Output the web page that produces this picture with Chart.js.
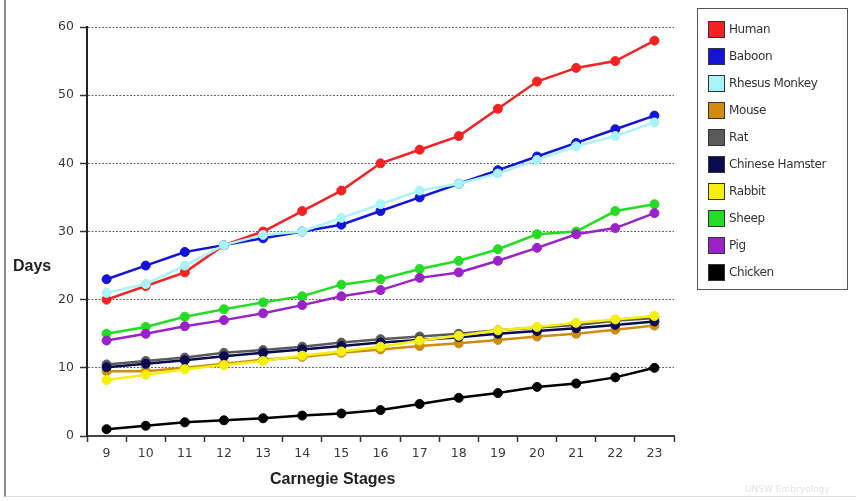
<!DOCTYPE html>
<html>
<head>
<meta charset="utf-8">
<script src="https://cdn.jsdelivr.net/npm/chart.js@4.4.1/dist/chart.umd.min.js"></script>
<style>
  html, body { margin: 0; padding: 0; background: #fff; }
  #wrap { position: relative; width: 856px; height: 501px; overflow: hidden; }
  #frame { position: absolute; left: 4px; top: 0; width: 860px; height: 496px;
           border-left: 2px solid #8a8a8a; border-bottom: 1px solid #ddd; }
  canvas { position: absolute; left: 0; top: 0; }
  #days { position: absolute; left: 13px; top: 257px; font: bold 16px "Liberation Sans", Arial, sans-serif; color: #222; }
  #xtitle { position: absolute; left: 270px; top: 470px; font: bold 16px "Liberation Sans", Arial, sans-serif; color: #222; }
  #legend { position: absolute; left: 697px; top: 8px; width: 151px; height: 282px;
            border: 1px solid #555; box-sizing: border-box; padding-top: 12px; }
  .item { height: 27px; display: flex; align-items: flex-start; font: 12px "DejaVu Sans", sans-serif; color: #333; }
  .sw { width: 15px; height: 15px; border: 1px solid #333; margin: 0 4px 0 10px; }
  .item span { line-height: 17px; letter-spacing: -0.4px; }
  #mark { position: absolute; left: 745px; top: 484px; font: 9px "DejaVu Sans", sans-serif; color: #e2e2e2; }
</style>
</head>
<body>
<div id="wrap">
  <div id="frame"></div>
  <canvas id="myChart" width="856" height="501"></canvas>
  <div id="days">Days</div>
  <div id="xtitle">Carnegie Stages</div>
  <div id="legend"></div>
  <div id="mark">UNSW Embryology</div>
</div>
<script>
// Carnegie stages on the x axis
const stages = ['9', '10', '11', '12', '13', '14', '15', '16', '17', '18', '19', '20', '21', '22', '23'];

// days per stage for each species
const human   = [20, 22, 24, 28, 30, 33, 36, 40, 42, 44, 48, 52, 54, 55, 58];
const baboon  = [23, 25, 27, 28, 29, 30, 31, 33, 35, 37, 39, 41, 43, 45, 47];
const rhesus  = [21, 22.3, 25, 28, 29.5, 30, 32, 34, 36, 37, 38.5, 40.5, 42.5, 44, 46];
const mouse   = [9.5, 9.5, 10, 10.6, 11.2, 11.6, 12.2, 12.7, 13.2, 13.6, 14.1, 14.6, 15, 15.6, 16.2];
const rat     = [10.5, 11, 11.5, 12.2, 12.6, 13.1, 13.7, 14.2, 14.6, 15, 15.5, 15.9, 16.3, 16.9, 17.3];
const hamster = [10.1, 10.6, 11.1, 11.7, 12.2, 12.7, 13.2, 13.7, 14.1, 14.5, 15, 15.4, 15.8, 16.3, 16.8];
const rabbit  = [8.2, 9, 9.8, 10.4, 11, 11.8, 12.4, 13.1, 14, 14.7, 15.5, 16, 16.6, 17.1, 17.6];
const sheep   = [15, 16, 17.5, 18.6, 19.6, 20.5, 22.2, 23, 24.5, 25.7, 27.4, 29.6, 30, 33, 34];
const pig     = [14, 15, 16.1, 17, 18, 19.2, 20.5, 21.4, 23.2, 24, 25.7, 27.6, 29.6, 30.5, 32.7];
const chicken = [1, 1.5, 2, 2.3, 2.6, 3, 3.3, 3.8, 4.7, 5.6, 6.3, 7.2, 7.7, 8.6, 10];

const names  = ['Human', 'Baboon', 'Rhesus Monkey', 'Mouse', 'Rat', 'Chinese Hamster', 'Rabbit', 'Sheep', 'Pig', 'Chicken'];
const series = [human, baboon, rhesus, mouse, rat, hamster, rabbit, sheep, pig, chicken];
const colors = ['#f42222', '#1414d8', '#a8f4f8', '#d08c10', '#5a5a5a', '#0a0a50', '#f4f00a', '#24dc24', '#9a22c8', '#000000'];

const yTicks = [0, 10, 20, 30, 40, 50, 60];

// legend (html)
const legend = document.getElementById('legend');
names.forEach((n, i) => {
  const row = document.createElement('div');
  row.className = 'item';
  row.innerHTML = '<div class="sw" style="background:' + colors[i] + '"></div><span>' + n + '</span>';
  legend.appendChild(row);
});

const tickFont = { family: 'DejaVu Sans', size: 12.5 };

const chartArea = document.getElementById('myChart').getContext('2d');
new Chart(chartArea, {
  type: 'line',
  data: {
    labels: stages,
    datasets: series.map((d, i) => ({
      label: names[i],
      data: d,
      borderColor: colors[i],
      backgroundColor: colors[i],
      borderWidth: 2.5,
      pointRadius: 4.5,
      pointBorderWidth: 1,
      pointBackgroundColor: colors[i],
      pointBorderColor: colors[i],
      tension: 0,
      fill: false,
    })).reverse(),
  },
  options: {
    responsive: false,
    animation: false,
    layout: { padding: { top: 27, right: 182, bottom: 0, left: 0 } },
    plugins: {
      legend: { display: false },
      tooltip: { enabled: false },
    },
    scales: {
      x: {
        offset: true,
        afterFit: (s) => { s.height = 65; },
        grid: { drawOnChartArea: false, offset: true, tickLength: 6, tickColor: '#333', tickWidth: 1.5 },
        border: { color: '#444', width: 2 },
        ticks: { font: tickFont, color: '#3a3a3a', padding: 4 },
      },
      y: {
        min: 0,
        max: 60,
        afterFit: (s) => { s.width = 87; },
        afterBuildTicks: (s) => { s.ticks = yTicks.map((v) => ({ value: v })); },
        grid: { color: '#666', lineWidth: 1, tickLength: 7, tickColor: '#333', tickWidth: 1.5, tickBorderDash: [] },
        border: { color: '#222', width: 2, dash: [2, 1.5] },
        ticks: { font: tickFont, color: '#3a3a3a', padding: 6 },
      },
    },
  },
});
</script>
</body>
</html>
